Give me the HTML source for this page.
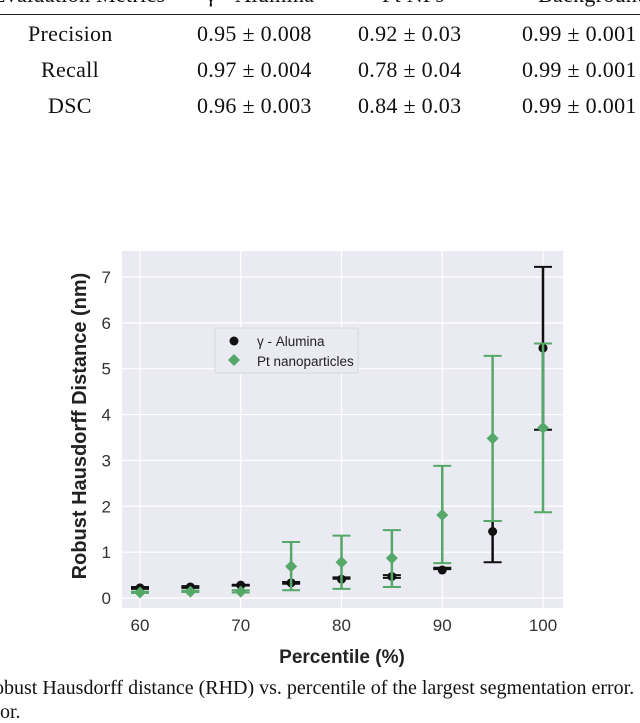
<!DOCTYPE html>
<html><head><meta charset="utf-8"><style>
body{margin:0;width:640px;height:723px;overflow:hidden;background:#fff;position:relative;font-family:"Liberation Serif",serif}
.wrap{position:absolute;left:0;top:0;width:640px;height:723px;overflow:hidden}
.t{position:absolute;font-size:22px;color:#111;white-space:nowrap;letter-spacing:0.3px}
</style></head><body><div class="wrap">
<div>
<div class="t" style="left:-8px;top:-18px">Evaluation Metrics</div>
<div class="t" style="left:206px;top:-18px">γ - Alumina</div>
<div class="t" style="left:382px;top:-18px">Pt NPs</div>
<div class="t" style="left:538px;top:-18px">Background (BG)</div>
<div style="position:absolute;left:0;top:14px;width:640px;height:1px;background:#222"></div>
<div class="t" style="left:28px;top:21px">Precision</div>
<div class="t" style="left:197px;top:21px">0.95 ± 0.008</div>
<div class="t" style="left:358px;top:21px">0.92 ± 0.03</div>
<div class="t" style="left:522px;top:21px">0.99 ± 0.001</div>
<div class="t" style="left:41px;top:57px">Recall</div>
<div class="t" style="left:197px;top:57px">0.97 ± 0.004</div>
<div class="t" style="left:358px;top:57px">0.78 ± 0.04</div>
<div class="t" style="left:522px;top:57px">0.99 ± 0.001</div>
<div class="t" style="left:48px;top:93px">DSC</div>
<div class="t" style="left:197px;top:93px">0.96 ± 0.003</div>
<div class="t" style="left:358px;top:93px">0.84 ± 0.03</div>
<div class="t" style="left:522px;top:93px">0.99 ± 0.001</div>
</div>
<svg id="c" width="640" height="723" style="position:absolute;left:0;top:0"></svg>
<div class="t" style="left:-6px;top:677px;font-size:20px;letter-spacing:0">obust Hausdorff distance (RHD) vs. percentile of the largest segmentation error. In</div>
<div class="t" style="left:0px;top:701px;font-size:20px;letter-spacing:0">or.</div>
</div>
<script>
const percentiles=[60,65,70,75,80,85,90,95,100];
const aluMean=[0.22,0.24,0.28,0.33,0.41,0.47,0.61,1.45,5.45];
const aluLow=[0.20,0.22,0.27,0.31,0.42,0.44,0.63,0.78,3.67];
const aluHigh=[0.24,0.26,0.29,0.35,0.45,0.50,0.66,1.68,7.22];
const ptMean=[0.12,0.14,0.14,0.69,0.78,0.87,1.81,3.48,3.71];
const ptLow=[0.11,0.13,0.12,0.17,0.20,0.24,0.76,1.68,1.87];
const ptHigh=[0.14,0.16,0.17,1.22,1.36,1.48,2.88,5.28,5.55];
const xTicks=[60,70,80,90,100];
const yTicks=[0,1,2,3,4,5,6,7];
const NS="http://www.w3.org/2000/svg";
const svg=document.getElementById('c');
const X=v=>140+(v-60)*10.075;
const Y=v=>598-v*45.86;
function mk(t,a,p){const e=document.createElementNS(NS,t);for(const k in a)e.setAttribute(k,a[k]);(p||svg).appendChild(e);return e;}
const bg=mk('rect',{x:122,y:251,width:441,height:357,fill:'#eaeaf2'});


xTicks.forEach(v=>{
 const l=mk('line',{x1:X(v),x2:X(v),y1:251,y2:608,stroke:'#fff','stroke-width':1.2});
 
 
 const t=mk('text',{x:X(v),y:631,'text-anchor':'middle','font-size':17,fill:'#333','font-family':'Liberation Sans, sans-serif'});
 t.textContent=v;
 
 
});
yTicks.forEach(v=>{
 const l=mk('line',{x1:122,x2:563,y1:Y(v),y2:Y(v),stroke:'#fff','stroke-width':1.2});
 
 
 const t=mk('text',{x:111,y:Y(v)+6,'text-anchor':'end','font-size':17,fill:'#333','font-family':'Liberation Sans, sans-serif'});
 t.textContent=v;
 
 
});
function series(mean,low,high,color,name,shape){
 percentiles.forEach((p,i)=>{
  const g=mk('g',{});
  
  
  const x=X(p);
  mk('line',{x1:x,x2:x,y1:Y(low[i]),y2:Y(high[i]),stroke:color,'stroke-width':2.5},g);
  mk('line',{x1:x-9,x2:x+9,y1:Y(low[i]),y2:Y(low[i]),stroke:color,'stroke-width':2},g);
  mk('line',{x1:x-9,x2:x+9,y1:Y(high[i]),y2:Y(high[i]),stroke:color,'stroke-width':2},g);
  const y=Y(mean[i]);
  if(shape==='c')mk('circle',{cx:x,cy:y,r:4.5,fill:color},g);
  else mk('polygon',{points:`${x},${y-6} ${x+6},${y} ${x},${y+6} ${x-6},${y}`,fill:color},g);
 });
}
series(aluMean,aluLow,aluHigh,'#111','alumina','c');
series(ptMean,ptLow,ptHigh,'#55a868','pt','d');
const lg=mk('g',{});


mk('rect',{x:215,y:328,width:143,height:45,fill:'#eaeaf2',stroke:'#d8d8e0',rx:2},lg);
mk('circle',{cx:234,cy:341,r:4.5,fill:'#111'},lg);
mk('polygon',{points:'234,354 240,360 234,366 228,360',fill:'#55a868'},lg);
const t1=mk('text',{x:257,y:346,'font-size':13.5,fill:'#222','font-family':'Liberation Sans, sans-serif'},lg);
t1.textContent='γ - Alumina';


const t2=mk('text',{x:257,y:366,'font-size':13.5,fill:'#222','font-family':'Liberation Sans, sans-serif'},lg);
t2.textContent='Pt nanoparticles';


const xt=mk('text',{x:342,y:663,'text-anchor':'middle','font-size':19,'font-weight':'bold',fill:'#222','font-family':'Liberation Sans, sans-serif'});
xt.textContent='Percentile (%)';


const yt=mk('text',{x:0,y:0,'text-anchor':'middle','font-size':20,'font-weight':'bold',fill:'#222','font-family':'Liberation Sans, sans-serif',transform:'translate(86,426) rotate(-90)'});
yt.textContent='Robust Hausdorff Distance (nm)';


</script>
</body></html>
